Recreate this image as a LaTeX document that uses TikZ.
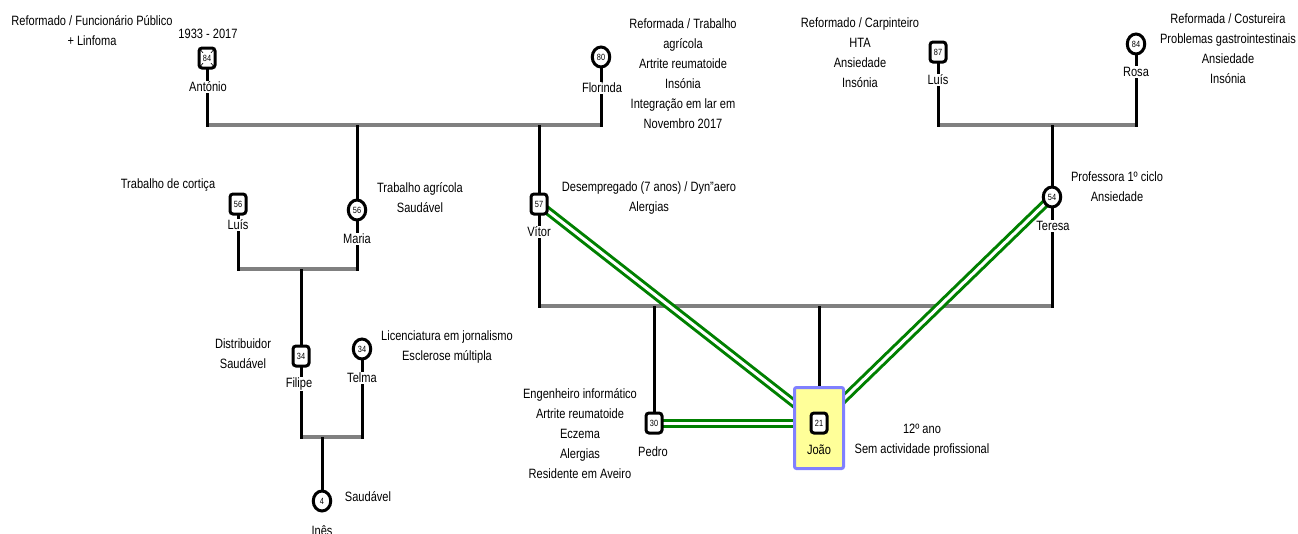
\documentclass[tikz,border=0pt]{standalone}
\usepackage{fontspec}
\setmainfont[FakeStretch=0.82]{Liberation Sans}
\usetikzlibrary{shapes.geometric}
\pgfdeclarelayer{lines}
\pgfdeclarelayer{emo}
\pgfsetlayers{lines,emo,main}
\definecolor{cgray}{RGB}{128,128,128}
\definecolor{cgreen}{RGB}{0,128,0}
\definecolor{cyel}{RGB}{255,255,153}
\definecolor{cblue}{RGB}{128,128,255}
\begin{document}
\begin{tikzpicture}[x=1pt,y=-1pt,
  txt/.style={align=center, font={\fontsize{13.5}{20}\selectfont}, inner sep=0pt},
  lab/.style={txt, fill=white, inner sep=1pt},
  male/.style={draw, line width=3pt, rounded corners=3pt, fill=white, minimum width=16pt, minimum height=20pt, inner sep=0pt, font={\fontsize{9}{10}\selectfont}},
  female/.style={ellipse, draw, line width=3pt, fill=white, minimum width=17.5pt, minimum height=20pt, inner sep=0pt, font={\fontsize{9}{10}\selectfont}},
  blk/.style={line width=3pt, black},
  gry/.style={line width=4pt, cgray},
  emoline/.style={line width=9pt, cgreen},
  emogap/.style={line width=3pt, white},
  probandbox/.style={draw=cblue, fill=cyel, line width=3pt, rounded corners=2pt, minimum width=49pt, minimum height=81pt}
]
\useasboundingbox (0,0) rectangle (1298,533);

% persons
\node[probandbox] (joaobox) at (819,428) {};
\node[male] (antonio) at (207,58) {};
\draw[line width=0.6pt] ([shift={(2,2)}]antonio.north west) -- ([shift={(-2,-2)}]antonio.south east);
\draw[line width=0.6pt] ([shift={(-2,2)}]antonio.north east) -- ([shift={(2,-2)}]antonio.south west);
\node[fill=white, inner sep=1.5pt, font={\fontsize{9}{10}\selectfont}] (antonioN) at (antonio.center) {84};
\node[female] (florinda) at (601,57) {80};
\node[male] (luis3) at (938,52) {87};
\node[female] (rosa) at (1136,44) {84};
\node[male] (luis2) at (238,204) {56};
\node[female] (maria) at (357,210) {56};
\node[male] (vitor) at (539,204) {57};
\node[female] (teresa) at (1052,197) {54};
\node[male] (filipe) at (301,356) {34};
\node[female] (telma) at (362,349) {34};
\node[female] (ines) at (322,501) {4};
\node[male] (pedro) at (654,423) {30};
\node[male] (joao) at (819,423) {21};

% name labels
\node[lab] (antonioL) at (208,87) {António};
\node[lab] (florindaL) at (602,88) {Florinda};
\node[lab] (luis3L) at (938,80) {Luís};
\node[lab] (rosaL) at (1136,72) {Rosa};
\node[lab] (luis2L) at (238,225) {Luís};
\node[lab] (mariaL) at (357,239) {Maria};
\node[lab] (vitorL) at (539,232) {Vítor};
\node[lab] (teresaL) at (1053,226) {Teresa};
\node[lab] (filipeL) at (299,384) {Filipe};
\node[lab] (telmaL) at (362,378) {Telma};
\node[lab] (inesL) at (322,531) {Inês};
\node[lab] (pedroL) at (653,452) {Pedro};
\node[txt] (joaoL) at (819,450) {João};
\node[txt] (antonioD) at (208,34) {1933 - 2017};

% descriptions
\node[txt] (antonioT) at (92,31) {Reformado / Funcionário Público\\+ Linfoma};
\node[txt] (florindaT) at (683,74) {Reformada / Trabalho\\agrícola\\Artrite reumatoide\\Insónia\\Integração em lar em\\Novembro 2017};
\node[txt] (luis3T) at (860,53) {Reformado / Carpinteiro\\HTA\\Ansiedade\\Insónia};
\node[txt] (rosaT) at (1228,49) {Reformada / Costureira\\Problemas gastrointestinais\\Ansiedade\\Insónia};
\node[txt] (luis2T) at (168,185) {Trabalho de cortiça};
\node[txt] (mariaT) at (420,198) {Trabalho agrícola\\Saudável};
\node[txt] (vitorT) at (649,198) {Desempregado (7 anos) / Dyn"aero\\Alergias};
\node[txt] (teresaT) at (1117,187) {Professora 1º ciclo\\Ansiedade};
\node[txt] (filipeT) at (243,354) {Distribuidor\\Saudável};
\node[txt] (telmaT) at (447,347) {Licenciatura em jornalismo\\Esclerose múltipla};
\node[txt] (inesT) at (368,497) {Saudável};
\node[txt] (pedroT) at (580,434) {Engenheiro informático\\Artrite reumatoide\\Eczema\\Alergias\\Residente em Aveiro};
\node[txt] (joaoT) at (922,440) {12º ano\\Sem actividade profissional};

% couple line heights
\coordinate (jAF) at (0,125);
\coordinate (jLR) at (0,125);
\coordinate (jLM) at (0,269);
\coordinate (jVT) at (0,306);
\coordinate (jFT) at (0,437);

\begin{pgfonlayer}{lines}
  \draw[gry] (antonio.center |- jAF) -- (florinda.center |- jAF);
  \draw[gry] (luis3.center |- jLR) -- (rosa.center |- jLR);
  \draw[gry] (luis2.center |- jLM) -- (maria.center |- jLM);
  \draw[gry] (vitor.center |- jVT) -- (teresa.center |- jVT);
  \draw[gry] (filipe.center |- jFT) -- (telma.center |- jFT);
  \draw[blk, shorten >=-2pt] (antonio.center) -- (antonio.center |- jAF);
  \draw[blk, shorten >=-2pt] (florinda.center) -- (florinda.center |- jAF);
  \draw[blk, shorten >=-2pt] (luis3.center) -- (luis3.center |- jLR);
  \draw[blk, shorten >=-2pt] (rosa.center) -- (rosa.center |- jLR);
  \draw[blk, shorten >=-2pt] (luis2.center) -- (luis2.center |- jLM);
  \draw[blk, shorten >=-2pt] (maria.center) -- (maria.center |- jLM);
  \draw[blk, shorten >=-2pt] (vitor.center) -- (vitor.center |- jVT);
  \draw[blk, shorten >=-2pt] (teresa.center) -- (teresa.center |- jVT);
  \draw[blk, shorten >=-2pt] (filipe.center) -- (filipe.center |- jFT);
  \draw[blk, shorten >=-2pt] (telma.center) -- (telma.center |- jFT);
  \draw[blk] (maria.center |- jAF) -- (maria.center);
  \draw[blk] (vitor.center |- jAF) -- (vitor.center);
  \draw[blk] (teresa.center |- jLR) -- (teresa.center);
  \draw[blk] (filipe.center |- jLM) -- (filipe.center);
  \draw[blk] (ines.center |- jFT) -- (ines.center);
  \draw[blk] (pedro.center |- jVT) -- (pedro.center);
  \draw[blk] (joao.center |- jVT) -- (joao.center);
\end{pgfonlayer}

\begin{pgfonlayer}{emo}
  \draw[emoline] (vitor.center) -- (joao.center);
  \draw[emoline] (teresa.center) -- (joao.center);
  \draw[emoline] (pedro.center) -- (joao.center);
  \draw[emogap] (vitor.center) -- (joao.center);
  \draw[emogap] (teresa.center) -- (joao.center);
  \draw[emogap] (pedro.center) -- (joao.center);
\end{pgfonlayer}
\end{tikzpicture}
\end{document}
